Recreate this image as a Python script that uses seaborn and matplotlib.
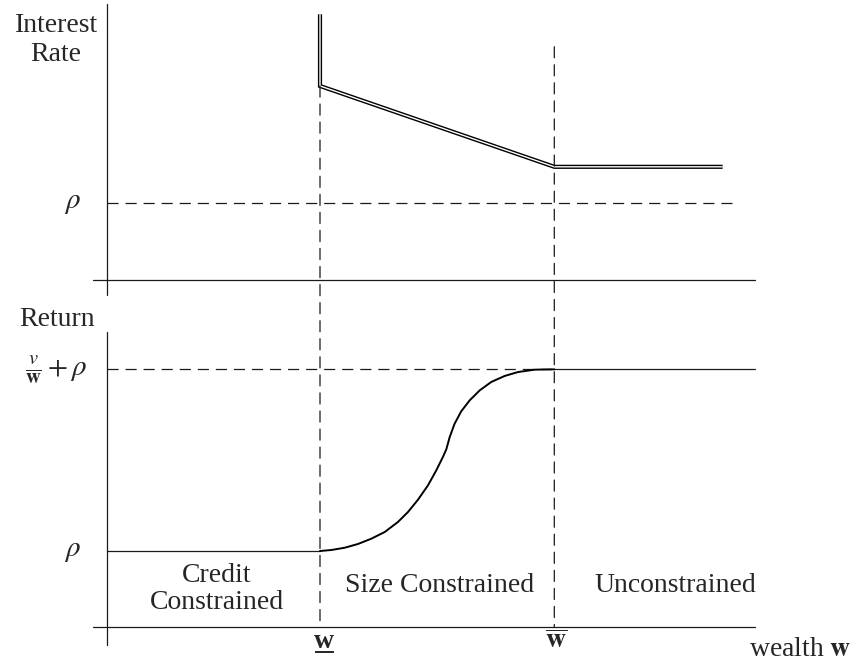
import matplotlib
matplotlib.use("Agg")
import matplotlib.pyplot as plt
import pandas as pd
import seaborn as sns
from matplotlib.patches import ConnectionPatch

# wealth on the x axis, origin at the vertical axis
w_low = 1.0
w_high = 2.1
w_rate_end = 2.89
w_axis_end = 3.04
w_rho_dash_end = 2.96

# interest rate panel (rho = 1)
rho = 1.0
rate_wealth = [w_low, w_low, w_high, w_rate_end]
rate_values = [3.45, 2.52, 1.47, 1.47]
w_high_dash_top = 3.03

# return panel
return_top = 3.39
curve_wealth = [1.0, 1.053, 1.116, 1.178, 1.241, 1.304, 1.366, 1.413, 1.46,
                1.507, 1.546, 1.577, 1.593, 1.609, 1.632, 1.663, 1.703, 1.75,
                1.804, 1.867, 1.93, 2.008, 2.086, 2.1]
curve_return = [1.0, 1.013, 1.043, 1.092, 1.162, 1.25, 1.382, 1.513, 1.675,
                1.864, 2.062, 2.237, 2.338, 2.5, 2.675, 2.838, 2.983, 3.114,
                3.224, 3.303, 3.355, 3.386, 3.39, 3.39]

sns.set_theme(style="white")
plt.rcParams["font.family"] = ["Liberation Serif", "DejaVu Serif"]
plt.rcParams["mathtext.fontset"] = "stix"
plt.rcParams["lines.scale_dashes"] = False

FS = 20
DASH = (0, (8, 5))
LW = 0.9
INK = "#1a1a1a"

fig = plt.figure(figsize=(8.58, 6.63), dpi=100)
ax_top = fig.add_axes([0, 353 / 663, 1, 310 / 663])
ax_bot = fig.add_axes([0, 0, 1, 353 / 663])
xlim = (-107 / 213, 751 / 213)
ax_top.set_xlim(xlim)
ax_top.set_ylim(-30 / 77, 280 / 77)
ax_bot.set_xlim(xlim)
ax_bot.set_ylim(-36 / 76, 317 / 76)
for ax in (ax_top, ax_bot):
    ax.set_axis_off()

# axes lines
ax_top.plot([0, 0], [-0.195, 3.584], color=INK, lw=LW)
ax_top.plot([-0.066, w_axis_end], [0, 0], color=INK, lw=LW)
ax_bot.plot([0, 0], [-0.237, 3.88], color=INK, lw=LW)
ax_bot.plot([-0.066, w_axis_end], [0, 0], color=INK, lw=LW)

# top panel: rho reference and double line interest rate
ax_top.plot([0, w_rho_dash_end], [rho, rho], color=INK, lw=LW, ls=DASH)
rate_df = pd.DataFrame({"wealth": rate_wealth, "rate": rate_values})
for col, width in (("black", 3.0), ("white", 1.0)):
    sns.lineplot(data=rate_df, x="wealth", y="rate", sort=False, estimator=None,
                 ax=ax_top, color=col, lw=width,
                 solid_joinstyle="miter", solid_capstyle="butt")

# bottom panel: return curve
ax_bot.plot([0, w_low], [rho, rho], color=INK, lw=LW)
ax_bot.plot([0, w_high], [return_top, return_top], color=INK, lw=LW, ls=DASH)
ax_bot.plot([w_high, w_axis_end], [return_top, return_top], color=INK, lw=LW)
curve_df = pd.DataFrame({"wealth": curve_wealth, "ret": curve_return})
sns.lineplot(data=curve_df, x="wealth", y="ret", sort=False, estimator=None,
             ax=ax_bot, color="black", lw=1.4, solid_joinstyle="round")

# vertical thresholds spanning both panels
for w, ytop in ((w_low, rate_values[1]), (w_high, w_high_dash_top)):
    con = ConnectionPatch(xyA=(w, ytop), coordsA=ax_top.transData,
                          xyB=(w, 0), coordsB=ax_bot.transData,
                          color=INK, lw=LW, linestyle=DASH)
    fig.add_artist(con)

# labels
ax_top.text(-0.239, 3.12, "Interest\nRate", ha="center", va="center",
            fontsize=FS, linespacing=1.2)
ax_top.text(-0.16, rho, r"$\rho$", ha="center", va="center", fontsize=FS + 1)
ax_bot.text(-0.235, 4.04, "Return", ha="center", va="center", fontsize=FS)
ax_bot.text(-0.094, return_top, r"$\frac{v}{\mathbf{w}}+\rho$", ha="right",
            va="center", fontsize=FS + 1)
ax_bot.text(-0.16, rho, r"$\rho$", ha="center", va="center", fontsize=FS + 1)
ax_bot.text(0.516, 0.50, "Credit\nConstrained", ha="center", va="center",
            fontsize=FS, linespacing=1.15)
ax_bot.text(1.563, 0.54, "Size Constrained", ha="center", va="center", fontsize=FS)
ax_bot.text(2.667, 0.54, "Unconstrained", ha="center", va="center", fontsize=FS)

# lower threshold label: bold w with an underline
ax_bot.text(w_low + 0.02, -0.276, "w", ha="center", va="baseline",
            fontsize=FS, fontweight="bold")
ax_bot.plot([w_low - 0.025, w_low + 0.065], [-0.33, -0.33], color="black",
            lw=1.2, solid_capstyle="butt")
ax_bot.text(w_high + 0.01, -0.276, r"$\overline{\mathbf{w}}$", ha="center",
            va="baseline", fontsize=FS)
ax_bot.text(3.254, -0.3, r"wealth $\mathbf{w}$", ha="center", va="center",
            fontsize=FS)

fig.savefig("out.png", dpi=100)
